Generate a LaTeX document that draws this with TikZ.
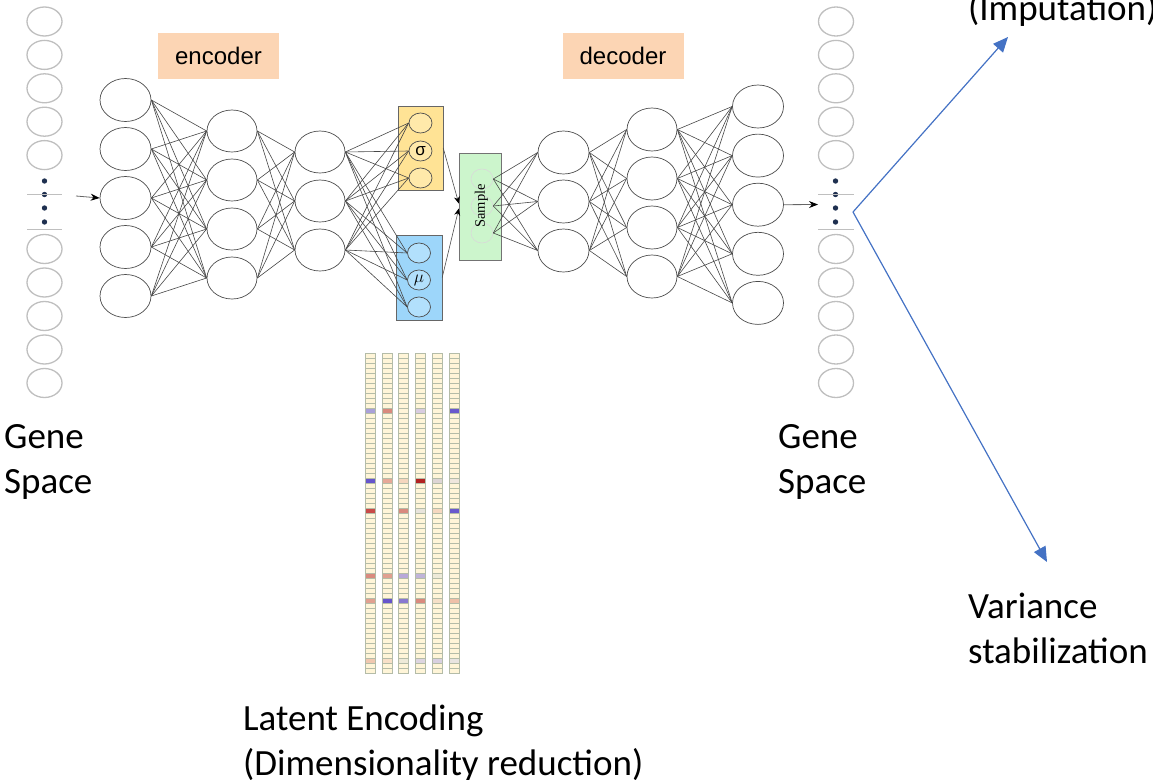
\documentclass[tikz,border=0pt]{standalone}
\usepackage{fontspec}
\setmainfont{Carlito}
\newfontfamily\arialfont{Liberation Sans}
\newfontfamily\timesfont{Liberation Serif}
\usepackage{xcolor}
\usetikzlibrary{shapes.geometric, arrows.meta}
\definecolor{peach}{HTML}{FCD5B4}
\definecolor{sigY}{HTML}{FFE395}
\definecolor{sigC}{HTML}{FFE9AA}
\definecolor{muB}{HTML}{9DD6FA}
\definecolor{muC}{HTML}{B2E0FC}
\definecolor{sampG}{HTML}{CCF5CC}
\definecolor{cellF}{HTML}{FFF5D8}
\definecolor{cellD}{HTML}{B4BCA8}
\definecolor{dotC}{HTML}{1F3050}
\definecolor{arrowblue}{HTML}{4472C4}
\tikzset{
  neuron/.style = {ellipse, draw=black!70, line width=0.7pt, minimum width=51pt,
                   minimum height=43pt, inner sep=0pt},
  gene/.style   = {ellipse, draw=black!25, line width=1.3pt, minimum width=35pt,
                   minimum height=29pt, inner sep=0pt},
  latc/.style   = {ellipse, draw=black!70, line width=0.7pt, minimum width=23pt,
                   minimum height=20pt, inner sep=0pt},
  sampc/.style  = {ellipse, draw=black!15, line width=0.6pt, minimum width=22pt,
                   minimum height=20pt, inner sep=0pt},
  tag/.style    = {rectangle, fill=peach, minimum width=121pt, minimum height=46pt,
                   inner sep=0pt, font=\arialfont\fontsize{24}{24}\selectfont},
  link/.style   = {draw=black!72, line width=0.6pt},
  sepline/.style = {draw=black!25, line width=0.8pt},
  cell/.style   = {fill=cellF, draw=cellD, line width=0.6pt},
  label/.style  = {inner sep=0pt, align=left, font=\fontsize{37}{45}\selectfont},
  arrow/.style  = {draw=black!60, line width=0.8pt, -{Stealth[length=9pt, width=7pt, black]}},
  sarrow/.style = {draw=black!70, line width=0.6pt, -{Stealth[length=7pt, width=6pt, black]}},
  blarrow/.style = {draw=arrowblue, line width=1.2pt, -{Triangle[length=15pt, width=13pt]}},
}

\begin{document}
\begin{tikzpicture}[x=1pt, y=-1pt]
  \useasboundingbox (0,0) rectangle (1153,779);

    %% Gene space columns (input and output)
    \foreach \k in {1,...,5} {
      \node[gene] (gi\k)  at ( 44.5, {21.5+33.4*(\k-1)}) {};
      \node[gene] (go\k)  at (836.0, {21.5+33.4*(\k-1)}) {};
    }
    \foreach \k in {6,...,10} {
      \node[gene] (gi\k)  at ( 44.5, {249+33.5*(\k-6)}) {};
      \node[gene] (go\k)  at (836.0, {249+33.5*(\k-6)}) {};
    }
    \foreach \y in {181,194.5,208,222} {
      \fill[dotC] (44.5,\y) circle (2.7);
      \fill[dotC] (835.5,\y) circle (2.7);
    }
    \draw[sepline] (27,194.5) -- (62,194.5);
    \draw[sepline] (27,229) -- (62,229);
    \draw[sepline] (818,194.5) -- (854,194.5);
    \draw[sepline] (818,229) -- (854,229);

    %% Labels on top
    \node[tag] (enclab) at (218.5, 56) {encoder};
    \node[tag] (declab) at (623.0, 56) {decoder};

    %% Encoder layers
    \foreach \k in {1,...,5} \node[neuron] (in\k) at (125.5, {100+49*(\k-1)}) {};
    \foreach \k in {1,...,4} \node[neuron, minimum width=50pt, minimum height=42pt] (h\k) at (232, {131+49*(\k-1)}) {};
    \foreach \k in {1,...,3} \node[neuron, minimum width=50pt, minimum height=42pt] (z\k) at (320, {152+49*(\k-1)}) {};

    %% Latent boxes (sigma, mu) and sampling
    \node[rectangle, draw=black!60, fill=sigY, minimum width=45pt, minimum height=84pt, inner sep=0pt] (sigbox) at (420.5, 148) {};
    \node[rectangle, draw=black!60, fill=muB, minimum width=46pt, minimum height=85pt, inner sep=0pt] (mubox) at (419, 277.5) {};
    \node[rectangle, draw=black!55, fill=sampG, minimum width=42pt, minimum height=107pt, inner sep=0pt] (sampbox) at (480, 206.5) {};

    \node[latc, fill=sigC] (sg1) at (420.5, 123) {};
    \node[latc, fill=sigC] (sg2) at (420.5, 151) {\arialfont\fontsize{17}{17}\selectfont σ};
    \node[latc, fill=sigC] (sg3) at (420.5, 178) {};
    \node[latc, fill=muC] (mu1) at (419, 253) {};
    \node[latc, fill=muC] (mu2) at (419, 280) {\fontsize{17}{17}\selectfont$\mu$};
    \node[latc, fill=muC] (mu3) at (419, 307) {};

    \node[sampc] (sp1) at (482, 179) {};
    \node[sampc] (sp2) at (482, 206) {};
    \node[sampc] (sp3) at (482, 233) {};
    \node[rotate=90, inner sep=0pt, font=\timesfont\fontsize{14.5}{14.5}\selectfont] (samptxt) at (481.5, 206) {Sample};

    %% Decoder layers
    \foreach \k in {1,...,3} \node[neuron] (d\k) at (563.5, {152.5+49*(\k-1)}) {};
    \foreach \k in {1,...,4} \node[neuron, minimum width=50pt] (dd\k) at (652, {129.5+49*(\k-1)}) {};
    \foreach \k in {1,...,5} \node[neuron] (out\k) at (758, {106.5+49.1*(\k-1)}) {};

    %% Full connections
    \foreach \i in {1,...,5} \foreach \j in {1,...,4} \draw[link] (in\i.east) -- (h\j.west);
    \foreach \i in {1,...,4} \foreach \j in {1,...,3} \draw[link] (h\i.east) -- (z\j.west);
    \foreach \i in {1,...,3} \foreach \j in {1,...,3} {
      \draw[link] (z\i.east) -- (sg\j.west);
      \draw[link] (z\i.east) -- (mu\j.west);
      \draw[link] (sp\i.east) -- (d\j.west);
    }
    \foreach \i in {1,...,3} \foreach \j in {1,...,4} \draw[link] (d\i.east) -- (dd\j.west);
    \foreach \i in {1,...,4} \foreach \j in {1,...,5} \draw[link] (dd\i.east) -- (out\j.west);

    %% Reparametrisation arrows
    \draw[sarrow] (sigbox.east) -- ([yshift=3pt]sampbox.west);
    \draw[sarrow] (mubox.east) -- ([yshift=-2pt]sampbox.west);

    %% Input / output arrows
    \coordinate (inarr) at (76, 196);
    \coordinate (outarr) at (818, 204.5);
    \draw[arrow] (inarr) -- (in3.west);
    \draw[arrow] (out3.east) -- (outarr);

    %% Latent encoding strips
    \foreach \s in {0,...,5} {
      \foreach \r in {0,...,63} {
        \draw[cell] ({365+16.8*\s}, {353+5*\r}) rectangle ++(10,5);
      }
    }
    \foreach \s/\r/\c in {0/11/A9A0D8, 1/11/D98A7E, 3/11/D8CCE0, 5/11/6A5ACD,
                          0/25/6655CC, 1/25/E6A898, 2/25/F5D6BE, 3/25/B22222, 4/25/DDD5D5, 5/25/EEE6DD,
                          0/31/C84A48, 2/31/D98A7E, 3/31/E8E4DC, 4/31/F5D8C0, 5/31/6A5ACD,
                          0/44/D98A7E, 1/44/E0A090, 2/44/B8A8D8, 3/44/C0B4D8, 4/44/EEEAD8,
                          0/49/E0A090, 1/49/6655CC, 2/49/8878D0, 3/49/D98A7E, 4/49/F5E0C8, 5/49/EEC0A8,
                          0/61/F0C8B0, 1/61/F8E0C8, 2/61/EEEAD8, 3/61/DDD5E0, 4/61/D8D0E0, 5/61/E8E4E0} {
      \definecolor{hl}{HTML}{\c}
      \draw[fill=hl, draw=cellD, line width=0.6pt] ({365+16.8*\s}, {353+5*\r}) rectangle ++(10,5);
    }

    %% Text labels
    \node[label, anchor=north west] (genein)  at (4, 424)   {Gene\\Space};
    \node[label, anchor=north west] (geneout) at (778, 424) {Gene\\Space};
    \node[label, anchor=north west] (latlab)  at (243, 705) {Latent Encoding\\(Dimensionality reduction)};
    \node[label, anchor=north west] (varlab)  at (968, 593) {Variance\\stabilization};
    \node[label, anchor=base west]  (implab)  at (968, 20)  {(Imputation)};

    %% Downstream uses
    \coordinate (fork)   at (853, 212);
    \coordinate (imptip) at (1008, 37);
    \coordinate (vartip) at (1047, 562);
    \draw[blarrow] (fork) -- (imptip);
    \draw[blarrow] (fork) -- (vartip);

  \end{tikzpicture}
\end{document}
